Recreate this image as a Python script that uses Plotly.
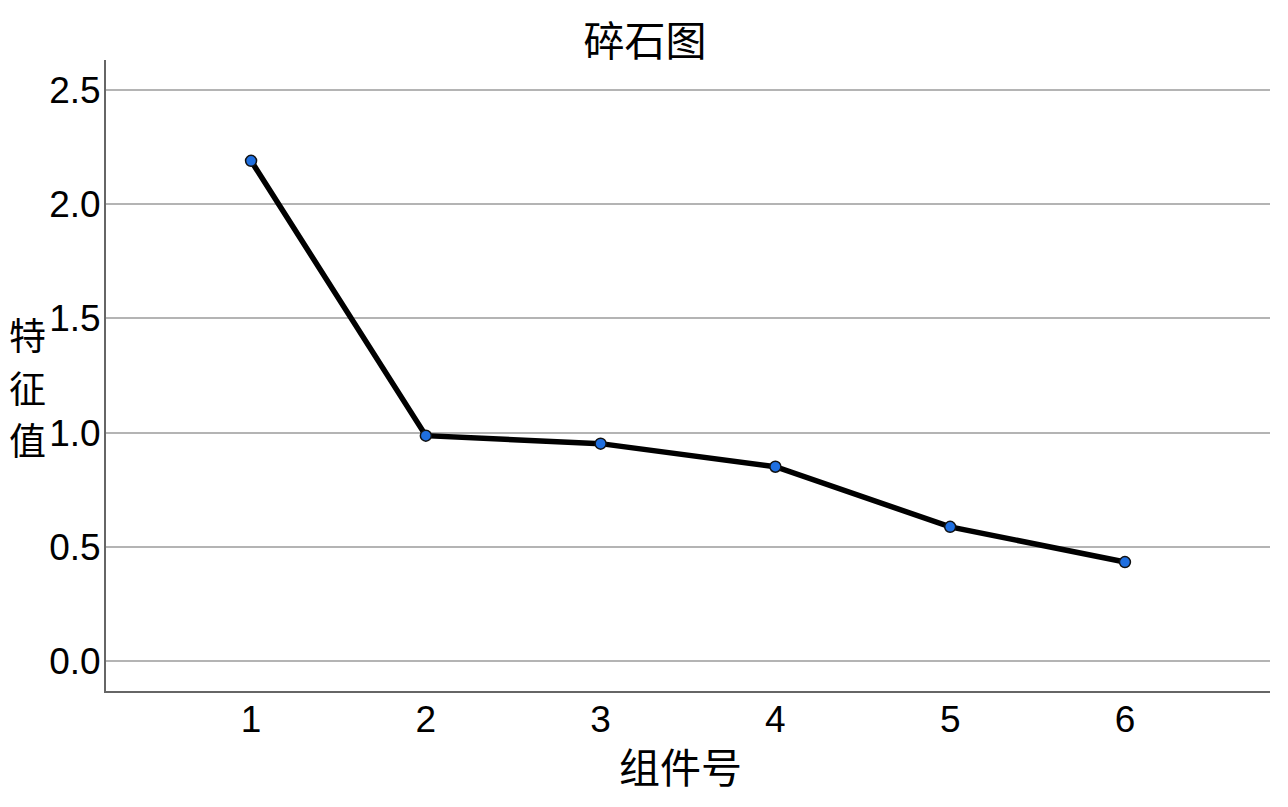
import plotly.graph_objects as go

components = [1, 2, 3, 4, 5, 6]
eigenvalues = [2.189, 0.987, 0.952, 0.851, 0.588, 0.434]
y_ticks = [0.0, 0.5, 1.0, 1.5, 2.0, 2.5]
y_tick_labels = ["0.0", "0.5", "1.0", "1.5", "2.0", "2.5"]
x_tick_labels = ["1", "2", "3", "4", "5", "6"]

title_text = "碎石图"
x_title = "组件号"
y_title = "特征值"

# page body has an 8px offset; figure is sized to fill the rest of the window
OFF = 8
W, H = 1288 - OFF, 807 - OFF
L, R, T, B = 106 - OFF, 18, 60 - OFF, 116
PW, PH = W - L - R, H - T - B

fig = go.Figure()
fig.add_trace(go.Scatter(
    x=components, y=eigenvalues, mode="lines+markers",
    line=dict(color="black", width=5.5),
    marker=dict(size=11, color="#1f6fe0", line=dict(color="#111111", width=1.5)),
    showlegend=False,
))

cjk = "Noto Sans CJK SC"
lat = "Liberation Sans, Arial"

annotations = [
    dict(text=x_title, xref="paper", yref="paper", x=(680 - 106) / PW, y=-(765 - 691) / PH,
         xanchor="center", yanchor="middle", showarrow=False,
         font=dict(family=cjk, size=41, color="black")),
]
# vertical stacked y-axis title, one character per line
y_title_centers = [334, 387, 439]
for ch, cy in zip(y_title, y_title_centers):
    annotations.append(dict(text=ch, xref="paper", yref="paper",
                            x=-(106 - 27) / PW, y=(691 - cy) / PH, xanchor="center", yanchor="middle",
                            showarrow=False, font=dict(family=cjk, size=37, color="black")))

fig.update_layout(
    width=W, height=H,
    paper_bgcolor="white", plot_bgcolor="white",
    margin=dict(l=L, r=R, t=T, b=B),
    title=dict(text=title_text, x=(645 - OFF) / W, xanchor="center", y=1 - (42 - OFF) / H, yanchor="middle",
               font=dict(family=cjk, size=41, color="black")),
    xaxis=dict(range=[0.17, 6.83], tickvals=components, ticktext=x_tick_labels,
               showgrid=False, zeroline=False, showline=True, linecolor="#666666", linewidth=2,
               ticks="", ticklabelstandoff=-5,
               tickfont=dict(family=lat, size=37, color="black")),
    yaxis=dict(range=[-0.13, 2.63], tickvals=y_ticks, ticktext=y_tick_labels,
               showgrid=True, gridcolor="#b4b4b4", gridwidth=2, zeroline=False,
               showline=True, linecolor="#666666", linewidth=2, ticks="", ticklabelstandoff=-4,
               tickfont=dict(family=lat, size=37, color="black")),
    annotations=annotations,
)

fig.write_html("out.html")
